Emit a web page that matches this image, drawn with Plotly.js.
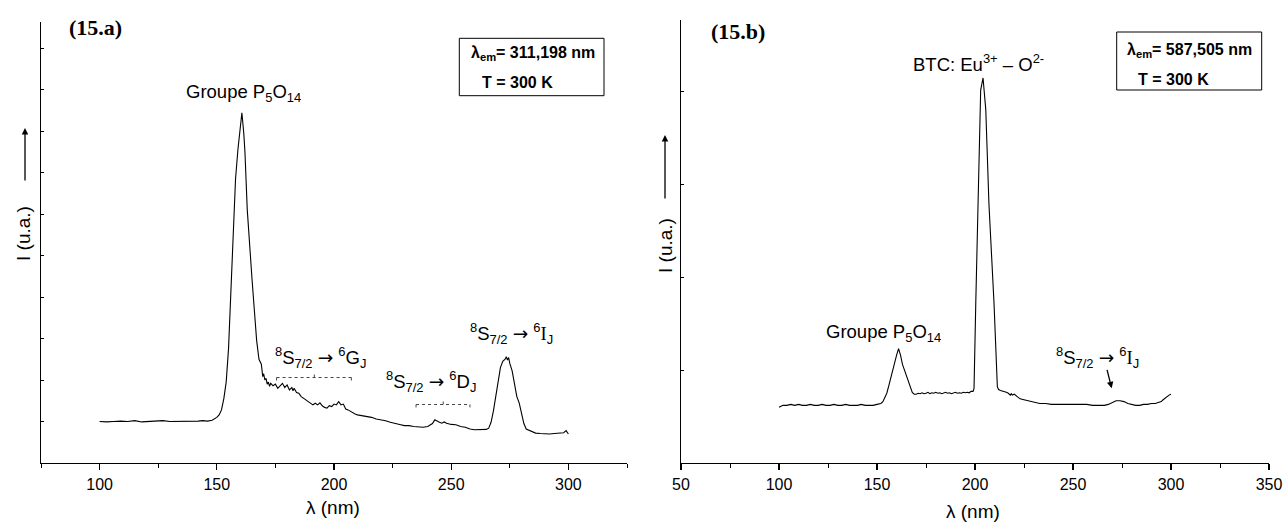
<!DOCTYPE html>
<html>
<head>
<meta charset="utf-8">
<script src="https://cdn.plot.ly/plotly-3.0.1.min.js"></script>
<style>html,body{margin:0;padding:0;background:#fff;}#chart{width:1284px;height:526px;}</style>
</head>
<body>
<div id="chart"></div>
<script>
// ---- Data (15.a) : excitation spectrum, lambda_em = 311,198 nm ----
const waveA = [100,103,106,109,112,115,118,121,124,127,130,133,136,139,142,144,146,148,150,151,152,153,154,155,156,157,158,159,160,160.7,161.5,162,163,164,165,166,167,168,168.5,169,169.6,170,170.5,171,171.5,172,172.5,173,174,175,176,177,178,179,180,181,182,182.5,183,184,185,186,187,188,189,190,191,192,193,194,195,196,197,198,199,200,201,202,203,204,204.5,205,206,207,208,209,210,212,214,216,218,220,222,224,226,228,230,232,234,236,238,240,242,243,244,245,246,247,248,250,252,254,256,258,260,262,264,265,266,267,268,269,270,271,272,273,273.5,274,274.5,275,276,277,278,279,280,281,282,284,286,288,290,292,294,296,298,299,300];
const intensA = [1.00,0.99,1.00,1.01,1.00,1.02,0.99,1.00,1.01,1.02,1.00,1.00,1.01,1.00,1.01,1.02,1.01,1.03,1.10,1.16,1.28,1.55,1.95,2.75,4.10,5.60,6.85,7.55,8.05,8.44,7.95,7.50,6.10,5.20,4.45,3.70,2.95,2.50,2.44,2.38,2.08,2.15,2.00,2.04,1.90,1.95,1.85,1.92,1.86,1.90,1.80,1.86,1.92,1.82,1.88,1.76,1.82,1.74,1.80,1.70,1.68,1.60,1.55,1.52,1.48,1.45,1.40,1.44,1.40,1.45,1.38,1.34,1.32,1.38,1.36,1.42,1.40,1.48,1.40,1.42,1.34,1.30,1.28,1.24,1.20,1.18,1.16,1.14,1.12,1.10,1.06,1.04,1.02,0.98,0.96,0.93,0.90,0.90,0.88,0.87,0.86,0.88,0.95,1.04,1.00,0.98,0.96,0.99,0.96,0.93,0.92,0.88,0.86,0.82,0.80,0.80,0.80,0.81,0.84,0.98,1.25,1.60,2.00,2.30,2.45,2.50,2.56,2.48,2.54,2.40,2.22,1.90,1.60,1.45,1.20,0.95,0.82,0.76,0.72,0.71,0.70,0.70,0.71,0.72,0.73,0.78,0.70];

// ---- Data (15.b) : excitation spectrum, lambda_em = 587,505 nm ----
const waveB = [100,102,104,106,108,110,112,114,116,118,120,122,124,126,128,130,132,134,136,138,140,142,144,146,148,150,152,153,154,155,156,157,158,159,160,161,162,163,164,165,166,167,168,169,170,171,172,173,174,175,176,177,178,179,180,181,182,183,184,185,186,187,188,189,190,191,192,193,194,195,196,197,198,199,199.5,200.4,201.5,202.9,204.1,205.5,207.1,209.7,211.4,212,213,214,215,216,217,218,218.5,219,220,221,222,223,225,227,229,231,233,236,239,242,245,248,251,254,257,260,263,266,268,270,272,274,276,278,280,282,284,286,288,290,292,294,295,296,297,298,299,300];
const intensB = [0.60,0.62,0.62,0.63,0.62,0.63,0.62,0.62,0.63,0.62,0.62,0.63,0.62,0.62,0.63,0.62,0.62,0.63,0.62,0.62,0.62,0.63,0.62,0.62,0.62,0.63,0.64,0.66,0.70,0.75,0.83,0.92,1.00,1.08,1.16,1.23,1.16,1.06,1.00,0.96,0.90,0.82,0.76,0.74,0.74,0.75,0.745,0.755,0.745,0.75,0.76,0.745,0.755,0.75,0.76,0.75,0.755,0.745,0.755,0.76,0.75,0.755,0.745,0.755,0.76,0.75,0.755,0.75,0.76,0.755,0.76,0.755,0.77,0.77,0.80,1.72,2.79,4.01,4.14,3.80,2.79,1.72,0.82,0.79,0.78,0.775,0.77,0.76,0.75,0.73,0.745,0.73,0.74,0.72,0.70,0.69,0.68,0.67,0.66,0.65,0.64,0.64,0.63,0.63,0.63,0.63,0.63,0.63,0.63,0.62,0.62,0.62,0.63,0.65,0.67,0.67,0.66,0.64,0.63,0.62,0.62,0.63,0.63,0.64,0.64,0.65,0.66,0.68,0.70,0.72,0.73,0.74];

// ---- Texts ----
const panelLabels = ['(15.a)', '(15.b)'];
const xTitle = 'λ (nm)';
const yTitle = 'I (u.a.)';
const boxA = ['<b>λ<sub>em</sub>= 311,198 nm</b>', '<b>T = 300 K</b>'];
const boxB = ['<b>λ<sub>em</sub>= 587,505 nm</b>', '<b>T = 300 K</b>'];
const SERIF = 'Liberation Serif, Times New Roman, serif';
const SANS = 'Liberation Sans, Arial, sans-serif';
const ARR = '<span style="font-family:DejaVu Sans">→</span>';
const lblP5O14 = 'Groupe P<sub>5</sub>O<sub>14</sub>';
const lblG = '<sup>8</sup>S<sub>7/2</sub> ' + ARR + ' <sup>6</sup>G<sub>J</sub>';
const lblD = '<sup>8</sup>S<sub>7/2</sub> ' + ARR + ' <sup>6</sup>D<sub>J</sub>';
const lblI = '<sup>8</sup>S<sub>7/2</sub> ' + ARR + ' <sup>6</sup><span style="font-family:Liberation Serif">I</span><sub>J</sub>';
const lblBTC = 'BTC: Eu<sup>3+</sup> – O<sup>2-</sup>';

const W = 1284, H = 526;
const px = x => x / W;
const py = y => 1 - y / H;

const line = {color: '#000', width: 1.1};
const traces = [
  {x: waveA, y: intensA, type: 'scatter', mode: 'lines', line: line, xaxis: 'x', yaxis: 'y', hoverinfo: 'skip'},
  {x: waveB, y: intensB, type: 'scatter', mode: 'lines', line: line, xaxis: 'x2', yaxis: 'y2', hoverinfo: 'skip'}
];

const xBase = {
  showline: true, linecolor: '#000', linewidth: 1.3, showgrid: false, zeroline: false,
  ticks: 'outside', ticklen: 6, tickwidth: 1.2, tickcolor: '#000', dtick: 50, tick0: 0,
  minor: {dtick: 25, ticks: 'outside', ticklen: 4, tickwidth: 1, tickcolor: '#000', showgrid: false},
  tickfont: {family: SANS, size: 16, color: '#000'}
};
const yBase = {
  showline: true, linecolor: '#000', linewidth: 1.3, showgrid: false, zeroline: false,
  ticks: 'inside', ticklen: 3, tickwidth: 1, tickcolor: '#000', dtick: 1, tick0: 0,
  showticklabels: false
};

function txt(x, y, text, size, extra) {
  return Object.assign({xref: 'paper', yref: 'paper', x: px(x), y: py(y), text: text, showarrow: false,
    xanchor: 'center', yanchor: 'middle', font: {family: SANS, size: size, color: '#000'}}, extra || {});
}
function arrow(x, y, ax, ay) {
  return {xref: 'paper', yref: 'paper', x: px(x), y: py(y), ax: ax, ay: ay, axref: 'pixel', ayref: 'pixel',
    text: '', showarrow: true, arrowhead: 2, arrowsize: 1, arrowwidth: 1.3, arrowcolor: '#000', standoff: 0};
}
const boxFont = {family: SANS, size: 16, color: '#000'};
const panelFont = {family: SERIF, size: 22, color: '#000'};

const annotations = [
  // panel labels
  txt(96, 27, '<b>' + panelLabels[0] + '</b>', 22, {font: panelFont}),
  txt(738, 32, '<b>' + panelLabels[1] + '</b>', 22, {font: panelFont}),
  // axis titles
  txt(333, 507, xTitle, 19),
  txt(973, 511, xTitle, 19),
  txt(23, 233, yTitle, 19, {textangle: -90}),
  txt(665, 246, yTitle, 19, {textangle: -90}),
  arrow(25, 128, 0, 54),
  arrow(665, 135, 0, 65),
  // panel a labels
  txt(243, 93, lblP5O14, 18.5),
  txt(320, 357, lblG, 18.5),
  txt(431, 381, lblD, 18.5),
  txt(511, 333, lblI, 18.5),
  // box a
  txt(469, 53, boxA[0], 16, {xanchor: 'left', font: boxFont}),
  txt(480, 83, boxA[1], 16, {xanchor: 'left', font: boxFont}),
  // panel b labels
  txt(978, 63, lblBTC, 18.5),
  txt(883, 333, lblP5O14, 18.5),
  txt(1097, 357, lblI, 18.5),
  arrow(1111.7, 388.3, -5, -20),
  // box b
  txt(1125, 50, boxB[0], 16, {xanchor: 'left', font: boxFont}),
  txt(1136, 80, boxB[1], 16, {xanchor: 'left', font: boxFont})
];

const dotted = {color: '#444', width: 1, dash: 'dot'};
function seg(x0, y0, x1, y1, xr, yr) {
  return {type: 'line', xref: xr, yref: yr, x0: x0, y0: y0, x1: x1, y1: y1, line: dotted};
}
// brackets drawn in data coordinates of panel a
const shapes = [
  seg(175.5, 2.06, 207.4, 2.06, 'x', 'y'),
  seg(175.5, 2.06, 175.5, 1.98, 'x', 'y'),
  seg(207.4, 2.06, 207.4, 1.98, 'x', 'y'),
  seg(191.6, 2.06, 191.6, 2.14, 'x', 'y'),
  seg(235.0, 1.41, 258.0, 1.41, 'x', 'y'),
  seg(235.0, 1.41, 235.0, 1.34, 'x', 'y'),
  seg(258.0, 1.41, 258.0, 1.34, 'x', 'y'),
  seg(246.6, 1.41, 246.6, 1.50, 'x', 'y'),
  {type: 'rect', xref: 'paper', yref: 'paper', x0: px(459.3), x1: px(604), y0: py(95.7), y1: py(38.3), line: {color: '#000', width: 1}},
  {type: 'rect', xref: 'paper', yref: 'paper', x0: px(1116.7), x1: px(1261.7), y0: py(90), y1: py(32), line: {color: '#000', width: 1}}
];

const layout = {
  width: W, height: H, margin: {l: 0, r: 0, t: 0, b: 0},
  paper_bgcolor: '#fff', plot_bgcolor: '#fff', showlegend: false,
  xaxis: Object.assign({}, xBase, {domain: [px(41), px(627)], range: [75, 325], anchor: 'y'}),
  yaxis: Object.assign({}, yBase, {domain: [py(463), py(22)], range: [0, 441 / 41.5], anchor: 'x'}),
  xaxis2: Object.assign({}, xBase, {domain: [px(681), px(1269)], range: [50, 350], anchor: 'y2'}),
  yaxis2: Object.assign({}, yBase, {domain: [py(463), py(20)], range: [0, 443 / 93], anchor: 'x2'}),
  annotations: annotations, shapes: shapes
};

Plotly.newPlot('chart', traces, layout, {staticPlot: true, displayModeBar: false});
</script>
</body>
</html>
